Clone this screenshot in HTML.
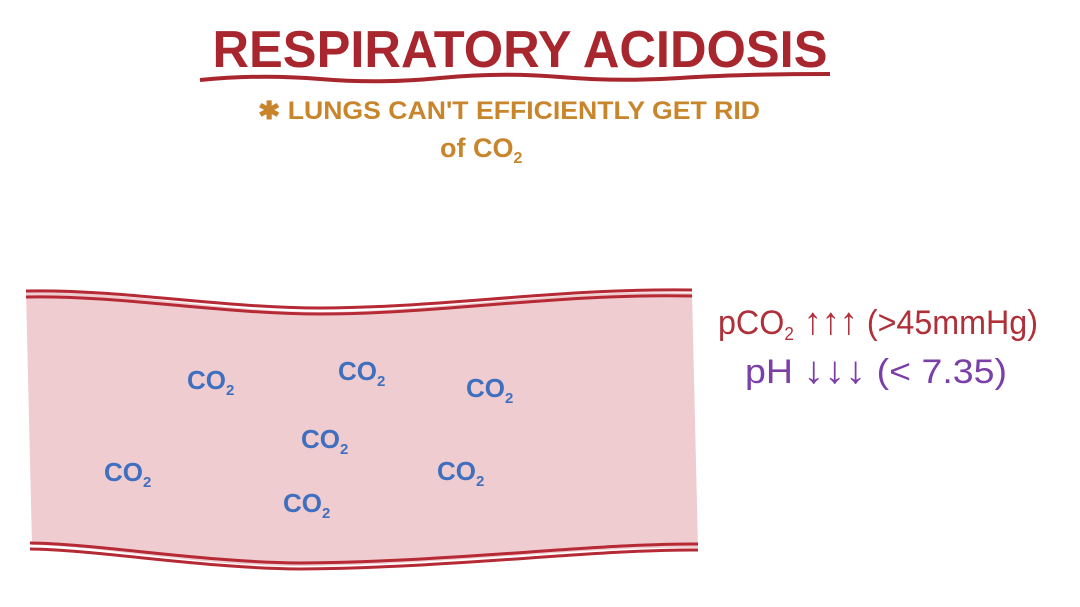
<!DOCTYPE html>
<html><head><meta charset="utf-8"><style>
html,body{margin:0;padding:0;background:#fff;}
svg{display:block}
text{font-family:"Liberation Sans",sans-serif;}
</style></head><body>
<svg width="1080" height="607" viewBox="0 0 1080 607">
<text x="520" y="67" text-anchor="middle" font-size="52" font-weight="bold" fill="#a8262e" textLength="615" lengthAdjust="spacingAndGlyphs">RESPIRATORY ACIDOSIS</text>
<path d="M200 80 Q260 74 320 79 T440 78 T560 77 T680 78 T830 74" stroke="#a8262e" stroke-width="4" fill="none"/>
<text x="258" y="119" font-size="25" font-weight="bold" fill="#c8852c" textLength="502" lengthAdjust="spacingAndGlyphs">✱ LUNGS CAN'T EFFICIENTLY GET RID</text>
<text x="440" y="157" font-size="27" font-weight="bold" fill="#c8852c">of CO<tspan font-size="16" dy="6">2</tspan></text>
<path d="M26 292 C120 290 220 312 320 312 C440 312 560 288 692 293 L698 548 C600 545 450 565 300 566 C200 566 100 546 32 545 Z" fill="#efccd0"/>
<g fill="none" stroke="#b52a35">
<path d="M26 291 C120 289 220 308 320 308 C440 308 560 288 692 290" stroke-width="3"/>
<path d="M26 297 C120 295 220 314 320 314 C440 314 560 293 692 296" stroke-width="3"/>
<path d="M30 543 C100 544 200 562 300 563 C450 562 600 543 698 544" stroke-width="3"/>
<path d="M30 549 C100 550 200 568 300 569 C450 568 600 549 698 550" stroke-width="3"/>
</g>
<g font-size="26" font-weight="bold" fill="#3f6fbf">
<text x="187" y="389">CO<tspan font-size="15" dy="6">2</tspan></text>
<text x="338" y="380">CO<tspan font-size="15" dy="6">2</tspan></text>
<text x="466" y="397">CO<tspan font-size="15" dy="6">2</tspan></text>
<text x="301" y="448">CO<tspan font-size="15" dy="6">2</tspan></text>
<text x="104" y="481">CO<tspan font-size="15" dy="6">2</tspan></text>
<text x="437" y="480">CO<tspan font-size="15" dy="6">2</tspan></text>
<text x="283" y="512">CO<tspan font-size="15" dy="6">2</tspan></text>
</g>
<text x="718" y="334" font-size="34" fill="#b0303a" textLength="320" lengthAdjust="spacingAndGlyphs">pCO<tspan font-size="18" dy="6">2</tspan><tspan dy="-6" font-weight="bold" font-size="38"> ↑↑↑</tspan><tspan> (&gt;45mmHg)</tspan></text>
<text x="745" y="383" font-size="34" fill="#7b3fa8" textLength="262" lengthAdjust="spacingAndGlyphs">pH <tspan font-weight="bold" font-size="38">↓↓↓</tspan> (&lt; 7.35)</text>
</svg>
</body></html>
